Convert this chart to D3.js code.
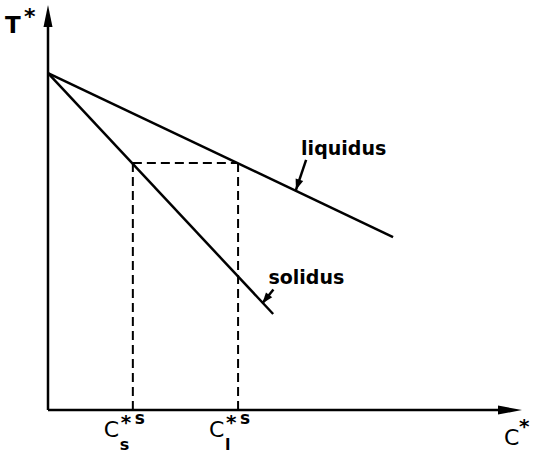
<!DOCTYPE html>
<html>
<head>
<meta charset="utf-8">
<script src="https://cdn.jsdelivr.net/npm/d3@7"></script>
<style>
  html, body { margin: 0; padding: 0; background: #fff; }
  svg { display: block; }
  text { font-family: "DejaVu Sans", sans-serif; fill: #000; }
</style>
</head>
<body>
<script>
// Phase diagram: liquidus and solidus lines in (C*, T*) space
const liquidus = [[0, 83.2], [72.8, 42.7]];
const solidus = [[0, 83.2], [47.5, 23.7]];
const tieT = [61];          // temperature of the tie line
const tieC = [17.9, 40.1];  // C_s*s and C_l*s
const tieLabels = [{ main: "C", sub: "s", sup: "s" }, { main: "C", sub: "l", sup: "s" }];
const lineLabels = [
  { text: "liquidus", at: [53.4, 63], tipAt: [52.3, 54.3] },
  { text: "solidus", at: [46.5, 31], tipAt: [45.2, 26.3] }
];

const W = 533, H = 457;
const svg = d3.select("body").append("svg").attr("width", W).attr("height", H);

const x = d3.scaleLinear().domain([0, 100]).range([48, 522]);
const y = d3.scaleLinear().domain([0, 100]).range([410, 5]);

// axes with arrowheads
const axisG = svg.append("g");
axisG.append("line").attr("x1", x(0)).attr("y1", y(0)).attr("x2", x(0)).attr("y2", y(96))
  .attr("stroke", "#000").attr("stroke-width", 2.5);
axisG.append("line").attr("x1", x(0)).attr("y1", y(0)).attr("x2", x(97)).attr("y2", y(0))
  .attr("stroke", "#000").attr("stroke-width", 2.5);
axisG.append("path")
  .attr("d", `M${x(0)},${y(100)} L${x(0) - 4.5},${y(100) + 22} L${x(0) + 4.5},${y(100) + 22} Z`)
  .attr("fill", "#000");
axisG.append("path")
  .attr("d", `M${x(100)},${y(0)} L${x(100) - 24},${y(0) - 4.5} L${x(100) - 24},${y(0) + 4.5} Z`)
  .attr("fill", "#000");

// axis titles T* and C*
svg.append("text").attr("x", 5).attr("y", 33).attr("font-size", 23).attr("font-weight", "bold").text("T");
svg.append("text").attr("x", 24).attr("y", 24).attr("font-size", 22).attr("font-weight", "bold").text("*");
svg.append("text").attr("x", 504).attr("y", 445).attr("font-size", 22).text("C");
svg.append("text").attr("x", 519).attr("y", 433).attr("font-size", 20).attr("font-weight", "bold").text("*");

// phase lines
const line = d3.line().x(d => x(d[0])).y(d => y(d[1]));
[liquidus, solidus].forEach(pts => {
  svg.append("path").attr("d", line(pts)).attr("fill", "none")
    .attr("stroke", "#000").attr("stroke-width", 2.5);
});

// dashed tie line and drop lines
const dash = "9,5";
svg.append("line").attr("x1", x(tieC[0])).attr("x2", x(tieC[1]))
  .attr("y1", y(tieT[0])).attr("y2", y(tieT[0]))
  .attr("stroke", "#000").attr("stroke-width", 2).attr("stroke-dasharray", dash);
tieC.forEach(c => {
  svg.append("line").attr("x1", x(c)).attr("x2", x(c))
    .attr("y1", y(tieT[0])).attr("y2", y(0))
    .attr("stroke", "#000").attr("stroke-width", 2).attr("stroke-dasharray", dash);
});

// tick labels C_s*s and C_l*s
tieLabels.forEach((l, i) => {
  const cx = x(tieC[i]);
  const g = svg.append("g");
  g.append("text").attr("x", cx - 29).attr("y", 437).attr("font-size", 22).text(l.main);
  g.append("text").attr("x", cx - 13).attr("y", 450).attr("font-size", 16).attr("font-weight", "bold").text(l.sub);
  g.append("text").attr("x", cx - 12).attr("y", 429).attr("font-size", 20).attr("font-weight", "bold").text("*");
  g.append("text").attr("x", cx + 2).attr("y", 424).attr("font-size", 17).attr("font-weight", "bold").text(l.sup);
});

// line labels with pointer arrows
lineLabels.forEach(l => {
  svg.append("text").attr("x", x(l.at[0])).attr("y", y(l.at[1]))
    .attr("font-size", 19).attr("font-weight", "bold").text(l.text);
  const x0 = x(l.at[0]) + 5, y0 = y(l.at[1]) + 5;
  const x1 = x(l.tipAt[0]), y1 = y(l.tipAt[1]);
  const ang = Math.atan2(y1 - y0, x1 - x0);
  svg.append("line").attr("x1", x0).attr("y1", y0).attr("x2", x1).attr("y2", y1)
    .attr("stroke", "#000").attr("stroke-width", 2.5);
  const hl = 11, hw = 4;
  const bx = x1 - hl * Math.cos(ang), by = y1 - hl * Math.sin(ang);
  const px = -Math.sin(ang) * hw, py = Math.cos(ang) * hw;
  svg.append("path")
    .attr("d", `M${x1},${y1} L${bx + px},${by + py} L${bx - px},${by - py} Z`)
    .attr("fill", "#000");
});
</script>
</body>
</html>
